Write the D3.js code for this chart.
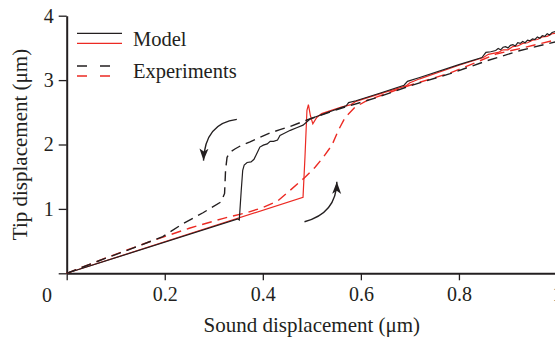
<html>
<script src="https://d3js.org/d3.v7.min.js"></script>
<style>
    body { margin: 0; background: #fff; }
    text { font-family: "Liberation Serif", "Times New Roman", serif; fill: #231f20; }
    .axis path, .axis line { stroke: #231f20; }
    .axis text { font-size: 20px; font-family: "Liberation Serif", serif; fill: #231f20; }
</style>
<body>
<div id="chart"></div>
<script>
    // tick values
    var xTicks = [0, 0.2, 0.4, 0.6, 0.8, 1];
    var yTicks = [0, 1, 2, 3, 4];

    // model, decreasing sweep (black solid)
    var modelDown = [
        [0, 0], [0.349, 0.845], [0.352, 0.83], [0.356, 1.29], [0.359, 1.60], [0.362, 1.68],
        [0.368, 1.72], [0.376, 1.73], [0.382, 1.77], [0.389, 1.88], [0.394, 1.96], [0.401, 1.99],
        [0.409, 2.01], [0.415, 2.05], [0.422, 2.05], [0.430, 2.07], [0.435, 2.14], [0.443, 2.17],
        [0.456, 2.22], [0.469, 2.26], [0.482, 2.30], [0.497, 2.40], [0.570, 2.60], [0.575, 2.65],
        [0.590, 2.68], [0.640, 2.80], [0.688, 2.92], [0.695, 2.98], [0.720, 3.04], [0.800, 3.24],
        [0.847, 3.35], [0.855, 3.43], [0.865, 3.44], [0.875, 3.46], [0.880, 3.49], [0.885, 3.47],
        [0.890, 3.51], [0.895, 3.52], [0.900, 3.50], [0.905, 3.54], [0.910, 3.55], [0.915, 3.53],
        [0.920, 3.58], [0.925, 3.57], [0.930, 3.60], [0.935, 3.58], [0.940, 3.62], [0.945, 3.61],
        [0.950, 3.64], [0.955, 3.63], [0.960, 3.67], [0.965, 3.65], [0.970, 3.69], [0.975, 3.68],
        [0.980, 3.72], [0.985, 3.70], [0.990, 3.74], [1.0, 3.76]
    ];

    // model, increasing sweep (red solid)
    var modelUp = [
        [0, 0], [0.482, 1.18], [0.486, 1.81], [0.490, 2.53], [0.493, 2.62], [0.497, 2.45],
        [0.502, 2.32], [0.510, 2.42], [0.520, 2.48], [0.560, 2.58], [0.580, 2.62], [0.590, 2.67],
        [0.640, 2.79], [0.692, 2.91], [0.700, 2.96], [0.720, 3.02], [0.800, 3.23], [0.850, 3.35],
        [0.860, 3.40], [0.880, 3.43], [0.890, 3.47], [0.900, 3.47], [0.910, 3.52], [0.920, 3.53],
        [0.930, 3.57], [0.940, 3.58], [0.950, 3.62], [0.960, 3.63], [0.970, 3.67], [0.980, 3.68],
        [0.990, 3.72], [1.0, 3.73]
    ];

    // experiments, decreasing sweep (black dashed)
    var expDown = [
        [0, 0], [0.066, 0.195], [0.135, 0.39], [0.196, 0.57], [0.237, 0.77], [0.278, 0.94],
        [0.315, 1.11], [0.322, 1.24], [0.324, 1.60], [0.327, 1.80], [0.333, 1.88], [0.343, 1.93],
        [0.357, 1.99], [0.374, 2.04], [0.394, 2.11], [0.415, 2.18], [0.435, 2.23], [0.456, 2.28],
        [0.476, 2.34], [0.490, 2.38], [0.550, 2.54], [0.633, 2.73], [0.700, 2.91], [0.782, 3.10],
        [0.857, 3.30], [0.925, 3.46], [1.0, 3.60]
    ];

    // experiments, increasing sweep (red dashed)
    var expUp = [
        [0, 0], [0.087, 0.26], [0.169, 0.49], [0.250, 0.70], [0.318, 0.85], [0.366, 0.94],
        [0.400, 1.02], [0.430, 1.12], [0.456, 1.29], [0.483, 1.47], [0.507, 1.65], [0.524, 1.81],
        [0.541, 1.99], [0.554, 2.22], [0.568, 2.42], [0.588, 2.58], [0.612, 2.68], [0.633, 2.74],
        [0.700, 2.92], [0.782, 3.11], [0.878, 3.41], [0.925, 3.49], [1.0, 3.63]
    ];

    // sweep-direction arrows: start, control, end (data units)
    var arrowDown = [[0.347, 2.39], [0.282, 2.33], [0.279, 1.75]];
    var arrowUp = [[0.485, 0.80], [0.550, 0.93], [0.551, 1.42]];

    var legendLabels = ["Model", "Experiments"];

    var ink = "#231f20", red = "#ec2a23";

    var svg = d3.select("#chart").append("svg")
        .attr("width", 555)
        .attr("height", 339);

    var x = d3.scaleLinear().domain([0, 1]).range([66.7, 557]);
    var y = d3.scaleLinear().domain([0, 4]).range([273.3, 15.7]);

    // axes
    var xAxis = svg.append("g")
        .attr("class", "axis")
        .attr("transform", "translate(0," + y(0) + ")")
        .call(d3.axisBottom(x).tickValues(xTicks).tickSize(7).tickSizeOuter(0).tickPadding(7)
            .tickFormat(function (d) { return d === 0 ? "" : d3.format("")(d); }));
    xAxis.select(".domain").attr("stroke-width", 2);
    xAxis.selectAll(".tick line").attr("stroke-width", 1.3);

    var yAxis = svg.append("g")
        .attr("class", "axis")
        .attr("transform", "translate(" + x(0) + ",0)")
        .call(d3.axisLeft(y).tickValues(yTicks).tickSize(8).tickSizeOuter(0).tickPadding(5)
            .tickFormat(function (d) { return d === 0 ? "" : d; }));
    yAxis.select(".domain").attr("stroke-width", 2);
    yAxis.selectAll(".tick line").attr("stroke-width", 1.3);

    // shared origin label
    svg.append("text")
        .attr("x", 47)
        .attr("y", y(0) + 7 + 7)
        .attr("dy", "0.71em")
        .attr("text-anchor", "middle")
        .style("font-size", "20px")
        .text("0");

    // axis titles
    svg.append("text")
        .attr("x", (x(0) + x(1)) / 2)
        .attr("y", 332)
        .attr("text-anchor", "middle")
        .style("font-size", "21px")
        .text("Sound displacement (\u03bcm)");

    svg.append("text")
        .attr("transform", "translate(27," + ((y(0) + y(4)) / 2) + ") rotate(-90)")
        .attr("text-anchor", "middle")
        .style("font-size", "21px")
        .text("Tip displacement (\u03bcm)");

    // curves
    var line = d3.line()
        .x(function (d) { return x(d[0]); })
        .y(function (d) { return y(d[1]); });

    svg.append("path").datum(modelUp)
        .attr("fill", "none").attr("stroke", red).attr("stroke-width", 1.2)
        .attr("d", line);
    svg.append("path").datum(expUp)
        .attr("fill", "none").attr("stroke", red).attr("stroke-width", 1.4)
        .attr("stroke-dasharray", "10,6")
        .attr("d", line);
    svg.append("path").datum(expDown)
        .attr("fill", "none").attr("stroke", ink).attr("stroke-width", 1.4)
        .attr("stroke-dasharray", "10,6")
        .attr("d", line);
    svg.append("path").datum(modelDown)
        .attr("fill", "none").attr("stroke", ink).attr("stroke-width", 1.2)
        .attr("d", line);

    // arrows
    svg.append("defs").append("marker")
        .attr("id", "head")
        .attr("viewBox", "0 -5 12 10")
        .attr("refX", 12)
        .attr("refY", 0)
        .attr("markerUnits", "userSpaceOnUse")
        .attr("markerWidth", 12)
        .attr("markerHeight", 10)
        .attr("orient", "auto")
        .append("path")
        .attr("d", "M0,-4.5L12,0L0,4.5L3,0Z")
        .attr("fill", ink);

    [arrowDown, arrowUp].forEach(function (a) {
        var p = d3.path();
        p.moveTo(x(a[0][0]), y(a[0][1]));
        p.quadraticCurveTo(x(a[1][0]), y(a[1][1]), x(a[2][0]), y(a[2][1]));
        svg.append("path")
            .attr("d", p.toString())
            .attr("fill", "none")
            .attr("stroke", ink)
            .attr("stroke-width", 1.4)
            .attr("marker-end", "url(#head)");
    });

    // legend
    var legend = svg.append("g");
    var rows = [
        { y: 33.3, color: ink, dash: null },
        { y: 43.3, color: red, dash: null },
        { y: 66, color: ink, dash: "10,13" },
        { y: 76, color: red, dash: "10,13" }
    ];
    rows.forEach(function (r) {
        legend.append("line")
            .attr("x1", 77).attr("x2", 122)
            .attr("y1", r.y).attr("y2", r.y)
            .attr("stroke", r.color)
            .attr("stroke-width", r.dash ? 1.4 : 1.2)
            .attr("stroke-dasharray", r.dash);
    });
    legend.selectAll(".lab")
        .data(legendLabels)
        .enter()
        .append("text")
        .attr("x", 133)
        .attr("y", function (d, i) { return i === 0 ? 45.7 : 78.3; })
        .style("font-size", "20.5px")
        .text(function (d) { return d; });
</script>
</body>
</html>
